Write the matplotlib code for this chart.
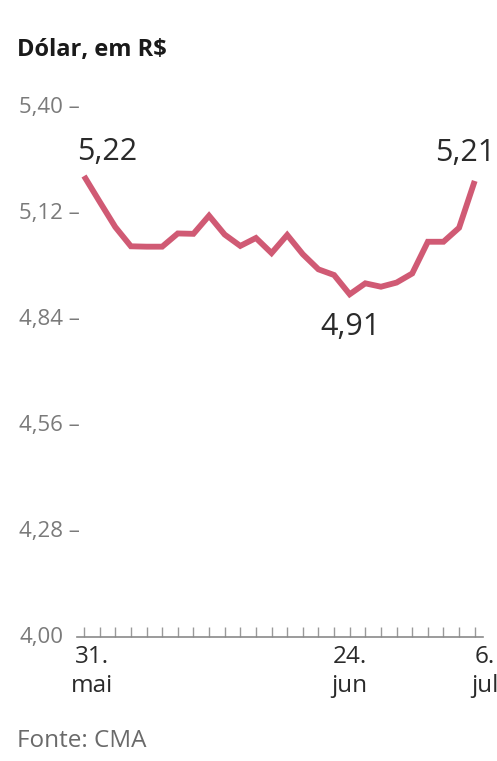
import matplotlib
matplotlib.use("Agg")
import matplotlib.pyplot as plt
import matplotlib.transforms as mtransforms

plt.rcParams['font.family'] = ['Open Sans', 'DejaVu Sans']

# Data: USD/BRL closing rate, trading days 31 May - 6 Jul
values = [5.22, 5.152, 5.085, 5.034, 5.033, 5.033, 5.068, 5.067, 5.115,
          5.065, 5.035, 5.056, 5.016, 5.064, 5.013, 4.973, 4.958, 4.907,
          4.936, 4.927, 4.938, 4.962, 5.046, 5.046, 5.083, 5.207]
ytick_values = [4.00, 4.28, 4.56, 4.84, 5.12, 5.40]
ytick_labels = ["4,00", "4,28 –", "4,56 –", "4,84 –", "5,12 –", "5,40 –"]
xlabel_idx = [0, 17, 25]
xlabel_text = ["31.\nmai", "24.\njun", "6.\njul"]
annot_idx = [0, 17, 25]
annot_text = ["5,22", "4,91", "5,21"]

W, H = 497, 761
fig = plt.figure(figsize=(W / 100, H / 100), dpi=100)
ax = fig.add_axes([77 / W, 124 / H, 406 / W, 529 / H])

x = list(range(len(values)))
ax.plot(x, values, color='#d05a74', lw=4.2, solid_joinstyle='miter',
        solid_capstyle='butt', zorder=3)

ax.set_xlim(-0.45, len(values) - 1 + 0.53)
ax.set_ylim(4.0, 5.40)
for s in ['top', 'right', 'left']:
    ax.spines[s].set_visible(False)
ax.spines['bottom'].set_color('#8a8a8a')
ax.spines['bottom'].set_linewidth(1.2)
ax.set_xticks(x)
ax.tick_params(axis='x', direction='in', length=7, width=1.0, color='#9a9a9a',
               labelbottom=False)
ax.set_yticks([])

# y labels as text
trans_y = mtransforms.blended_transform_factory(fig.transFigure, ax.transData)
for v, t in zip(ytick_values, ytick_labels):
    ax.text(19 / W, v, t, transform=trans_y, ha='left', va='center',
            fontsize=16, color='#7a7a7a')

# x labels
offs = [8, 0, 10]
for i, t, o in zip(xlabel_idx, xlabel_text, offs):
    tr = ax.transData + mtransforms.ScaledTranslation(o / 100, -8 / 100, fig.dpi_scale_trans)
    ax.text(i, 4.0, t, transform=tr, ha='center', va='top', fontsize=17.5,
            color='#2a2a2a', linespacing=1.3)

# value annotations
ann_off = [(23, 24), (1, -33), (-10, 28)]
for i, t, (dx, dy) in zip(annot_idx, annot_text, ann_off):
    tr = ax.transData + mtransforms.ScaledTranslation(dx / 100, dy / 100, fig.dpi_scale_trans)
    ax.text(i, values[i], t, transform=tr, ha='center', va='center',
            fontsize=22, color='#2a2a2a')

fig.text(17 / W, 1 - 50 / H, "Dólar, em R$", ha='left', va='center',
         fontsize=17, fontweight='bold', color='#1a1a1a')
fig.text(17 / W, 1 - 741 / H, "Fonte: CMA", ha='left', va='center',
         fontsize=17.5, color='#6a6a6a')

fig.savefig("out.png", dpi=100)
